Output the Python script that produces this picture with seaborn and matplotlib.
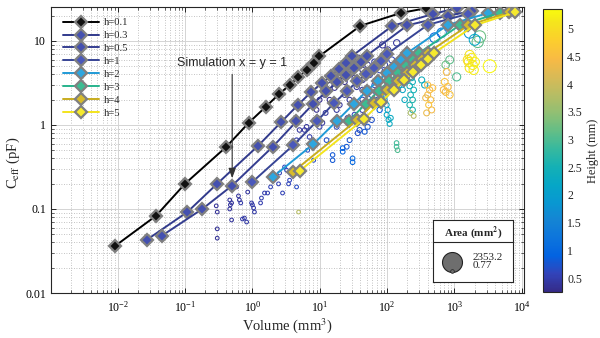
import numpy as np
import pandas as pd
import matplotlib
matplotlib.use("Agg")
import matplotlib.pyplot as plt
import seaborn as sns
from matplotlib.colors import LinearSegmentedColormap, Normalize
from matplotlib.ticker import FuncFormatter, LogLocator, FixedLocator
import matplotlib.cm as cm

# ---------------- simulated sweeps (x = y = s, one curve per height h) ----------------
sweep_labels = ["h=0.1", "h=0.3", "h=0.5", "h=1", "h=2", "h=3", "h=4", "h=5"]

vol_01 = [0.009, 0.037, 0.10, 0.41, 0.88, 1.57, 2.5, 3.6, 4.8, 6.4, 8.1, 9.9, 40, 160, 380]
cap_01 = [0.036, 0.083, 0.20, 0.55, 1.06, 1.64, 2.34, 3.0, 3.7, 4.5, 5.5, 6.6, 15.1, 21.5, 24.5]
vol_03 = [0.027, 0.108, 0.30, 1.2, 2.7, 4.8, 7.5, 10.8, 14.7, 19.2, 24.3, 30, 120, 480, 1080]
cap_03 = [0.043, 0.092, 0.20, 0.56, 1.09, 1.75, 2.47, 3.16, 3.83, 4.64, 5.47, 6.6, 15.1, 20.9, 24.5]
vol_05 = [0.045, 0.18, 0.5, 2.0, 4.5, 8, 12.5, 18, 24.5, 32, 40.5, 50, 200, 800, 1800]
cap_05 = [0.048, 0.10, 0.19, 0.55, 1.1, 1.78, 2.5, 3.2, 3.9, 4.7, 5.6, 6.7, 15.3, 20.0, 22.5]
vol_1 = [1, 4, 9, 16, 25, 36, 49, 64, 81, 100, 400, 1600]
cap_1 = [0.21, 0.57, 1.1, 1.8, 2.5, 3.3, 4.0, 4.8, 5.8, 7.0, 15.5, 21.0]
vol_2 = [2, 8, 18, 32, 50, 72, 98, 128, 162, 200, 800, 3200]
cap_2 = [0.24, 0.59, 1.12, 1.78, 2.55, 3.3, 4.1, 4.95, 5.9, 7.2, 15.5, 21.5]
vol_3 = [27, 48, 75, 108, 147, 192, 243, 300, 1200, 4800]
cap_3 = [1.12, 1.78, 2.55, 3.35, 4.15, 5.0, 6.0, 7.2, 15.4, 21.6]
vol_4 = [4, 36, 64, 100, 144, 196, 256, 324, 400, 1600, 6400]
cap_4 = [0.276, 1.15, 1.83, 2.6, 3.35, 4.2, 5.1, 6.1, 7.2, 15.3, 21.8]
vol_5 = [5, 45, 80, 125, 180, 245, 320, 405, 500, 2000, 8000]
cap_5 = [0.283, 1.17, 1.85, 2.62, 3.4, 4.25, 5.1, 6.1, 7.2, 15.3, 22.0]

sweep_vols = [vol_01, vol_03, vol_05, vol_1, vol_2, vol_3, vol_4, vol_5]
sweep_caps = [cap_01, cap_03, cap_05, cap_1, cap_2, cap_3, cap_4, cap_5]
line_colors = ["#000000", "#313a8c", "#343d90", "#374495", "#1f9ad6", "#27b38c", "#c8ac1e", "#f3e41c"]
face_colors = ["#111111", "#4450b0", "#4450b0", "#4a58bb", "#2ea6df", "#3cbc92", "#d7bb2c", "#f6ea2e"]

# ---------------- measured sensors: volume, C_eff, height, pad area ----------------
small_vol = [0.29, 0.30, 0.30, 0.30, 0.46, 0.47, 0.46, 0.49, 0.62, 0.64, 0.67, 0.71,
             0.82, 0.85, 1.00, 1.04, 1.07, 1.36, 1.32, 1.51, 1.86, 2.44, 3.44, 0.58,
             0.49, 0.76, 0.97, 1.68, 2.53, 3.21, 3.56, 4.52, 2.80, 3.0, 6.6, 8.1, 4.84]
small_cap = [0.109, 0.092, 0.058, 0.045, 0.128, 0.112, 0.100, 0.074, 0.143, 0.128, 0.118, 0.076,
             0.070, 0.159, 0.112, 0.103, 0.092, 0.135, 0.118, 0.155, 0.183, 0.199, 0.199, 0.183,
             0.118, 0.078, 0.118, 0.155, 0.268, 0.29, 0.22, 0.183, 0.155, 0.316, 0.50, 0.38, 0.092]
small_height = [0.35, 0.35, 0.35, 0.35, 0.4, 0.4, 0.4, 0.4, 0.4, 0.4, 0.45, 0.45,
                0.45, 0.4, 0.45, 0.45, 0.45, 0.5, 0.5, 0.5, 0.55, 0.55, 0.6, 0.4,
                0.4, 0.45, 0.45, 0.5, 0.55, 0.6, 0.6, 0.65, 0.55, 0.6, 0.65, 0.65, 3.8]
small_area = [1.0, 1.2, 0.9, 0.8, 1.5, 1.4, 1.3, 1.2, 2.0, 2.0, 1.8, 1.5,
              1.6, 2.5, 2.4, 2.2, 2.0, 2.8, 2.6, 3.0, 3.5, 4.0, 5.0, 2.2,
              1.6, 1.5, 2.3, 3.0, 4.5, 5.0, 4.5, 5.0, 4.0, 5.5, 8, 8, 1.5]

low_vol = [5.0, 5.95, 7.05, 8.37, 9.28, 9.93, 4.52, 6.37, 8.95, 10.9,
           12.6, 15.5, 15.5, 17.8, 17.8, 21.9, 21.9, 25.1, 27.7, 30.7,
           30.7, 36.6, 39.0, 43.1, 46.3, 51.3, 59.0, 43.1, 43.1, 43.1,
           43.1, 43.1, 43.1, 27.7, 32.9, 35.3, 23.4, 27.7, 19.7, 14.0,
           11.8, 16.6, 23.4, 55.0, 65.2, 59.0, 72.4, 77.4, 51.3, 65.2,
           77.4, 91.8, 85.6, 102, 117, 139, 91.8, 19.7, 25.1, 29.7,
           36.6, 14.0, 9.93, 7.55, 12.2, 32.9, 25.9]
low_cap = [0.87, 0.87, 0.72, 1.15, 1.21, 0.95, 0.66, 0.95, 1.51, 1.06,
           0.66, 0.44, 0.38, 1.51, 0.95, 0.53, 0.48, 0.55, 0.66, 0.40,
           0.36, 0.80, 0.87, 1.15, 0.83, 0.95, 1.15, 5.94, 4.52, 3.43,
           2.61, 1.99, 1.51, 4.52, 3.63, 2.83, 2.28, 1.99, 1.73, 1.99,
           2.28, 2.76, 3.25, 3.94, 2.99, 2.28, 1.99, 1.51, 5.18, 5.62,
           4.52, 3.63, 8.96, 7.81, 5.94, 9.47, 5.18, 3.94, 4.77, 5.62,
           6.28, 2.99, 1.99, 1.73, 1.39, 1.32, 1.21]
low_height = [0.4, 0.4, 0.5, 0.35, 0.35, 0.5, 0.5, 0.4, 0.3, 0.4,
              0.7, 0.8, 0.8, 0.4, 0.6, 0.9, 0.9, 0.8, 0.75, 1.0,
              1.0, 0.7, 0.7, 0.7, 0.8, 0.75, 0.7, 0.3, 0.35, 0.4,
              0.4, 0.5, 0.55, 0.3, 0.35, 0.4, 0.35, 0.4, 0.4, 0.3,
              0.3, 0.3, 0.3, 0.5, 0.6, 0.7, 0.7, 0.9, 0.4, 0.5,
              0.6, 0.7, 0.35, 0.4, 0.6, 0.4, 0.55, 0.3, 0.3, 0.3,
              0.3, 0.3, 0.3, 0.3, 0.4, 0.6, 0.6]
low_area = [40, 40, 45, 50, 50, 55, 35, 45, 55, 60,
            50, 40, 40, 70, 60, 50, 50, 55, 60, 50,
            50, 70, 75, 80, 70, 80, 90, 110, 100, 95,
            90, 85, 80, 90, 90, 85, 75, 75, 70, 65,
            60, 70, 80, 100, 95, 90, 95, 90, 110, 120,
            115, 110, 150, 150, 140, 170, 130, 80, 90, 100,
            110, 70, 60, 55, 60, 70, 65]

mid_vol = [91.8, 98.4, 102, 98.4, 105, 109, 95, 113, 231, 239,
           216, 248, 223, 239, 216, 239, 326, 361, 129, 143,
           153, 170, 182, 164, 138, 138, 143, 223, 248]
mid_cap = [1.99, 1.73, 1.51, 1.32, 1.15, 1.03, 2.28, 1.21, 3.63, 3.25,
           2.91, 2.61, 2.28, 1.99, 1.73, 1.51, 3.43, 2.99, 3.43, 3.94,
           2.99, 2.61, 1.99, 4.27, 0.61, 0.55, 0.50, 1.39, 1.28]
mid_height = [2.0, 2.1, 2.1, 2.2, 2.2, 2.3, 2.0, 2.3, 2.4, 2.4,
              2.5, 2.5, 2.5, 2.6, 2.6, 2.6, 2.4, 2.3, 2.0, 1.9,
              2.1, 2.2, 2.3, 1.9, 2.9, 2.9, 3.0, 3.7, 3.8]
mid_area = [70, 70, 75, 70, 75, 75, 75, 75, 110, 110,
            110, 115, 110, 110, 105, 105, 140, 150, 90, 95,
            95, 100, 100, 100, 45, 45, 45, 60, 60]

large_vol = [849, 1078, 2366, 2213, 740, 1683, 1997, 508, 645]
large_cap = [5.94, 3.73, 11.2, 9.73, 5.18, 12.5, 10.3, 10.9, 12.5]
large_height = [3.1, 3.0, 3.2, 3.1, 3.2, 1.8, 2.2, 1.0, 1.2]
large_area = [300, 320, 800, 700, 260, 650, 650, 500, 450]

tall_vol = [400, 428, 400, 443, 414, 458, 386, 474, 373, 715, 793, 740, 849, 692, 766]
tall_cap = [2.99, 2.61, 2.28, 1.99, 1.73, 1.51, 1.39, 2.76, 2.10, 3.25, 2.83, 2.47, 2.28, 2.61, 4.27]
tall_height = [4.4, 4.5, 4.4, 4.5, 4.6, 4.4, 4.3, 4.5, 4.3, 4.6, 4.5, 4.4, 4.6, 4.5, 4.4]
tall_area = [150, 150, 140, 150, 140, 140, 130, 160, 130, 200, 210, 200, 210, 200, 200]

top_vol = [1683, 1803, 1626, 1862, 1683, 1928, 1571, 1997, 3337]
top_cap = [6.81, 6.28, 5.62, 5.18, 4.77, 4.52, 5.94, 5.62, 5.0]
top_height = [5.1, 5.2, 5.1, 5.2, 5.1, 5.2, 5.0, 5.2, 5.3]
top_area = [420, 430, 420, 440, 420, 440, 400, 450, 940]

area_range = (0.77, 2353.2)
height_range = (0.25, 5.35)
cbar_ticks = [0.5, 1, 1.5, 2, 2.5, 3, 3.5, 4, 4.5, 5]

# ---------------- colour map (parula) ----------------
parula_pts = [
    (0.2081, 0.1663, 0.5292), (0.1959, 0.2645, 0.7279), (0.0117, 0.3875, 0.8820),
    (0.0498, 0.4586, 0.8641), (0.0793, 0.5200, 0.8312), (0.0343, 0.5966, 0.8199),
    (0.0228, 0.6535, 0.7768), (0.0843, 0.6928, 0.7062), (0.2178, 0.7250, 0.6193),
    (0.3953, 0.7459, 0.5244), (0.5709, 0.7485, 0.4494), (0.7184, 0.7411, 0.3905),
    (0.8507, 0.7299, 0.3360), (0.9739, 0.7314, 0.2666), (0.9880, 0.8066, 0.1794),
    (0.9589, 0.8949, 0.1132), (0.9763, 0.9831, 0.0538)]
parula_pos = [0, 4, 8, 12, 16, 20, 24, 28, 32, 36, 40, 44, 48, 52, 56, 60, 63]
parula = LinearSegmentedColormap.from_list(
    "parula", [(p / 63.0, c) for p, c in zip(parula_pos, parula_pts)])

# ---------------- styling ----------------
sns.set_style("ticks")
plt.rcParams["font.family"] = ["Liberation Serif", "DejaVu Serif"]
plt.rcParams["mathtext.fontset"] = "stix"

fig = plt.figure(figsize=(6.0, 3.38), dpi=100)
ax = fig.add_axes([0.085, 0.133, 0.788, 0.845])
ax.set_xscale("log")
ax.set_yscale("log")

norm = Normalize(*height_range)

frames = []
for v, c, h, a in [(small_vol, small_cap, small_height, small_area),
                   (low_vol, low_cap, low_height, low_area),
                   (mid_vol, mid_cap, mid_height, mid_area),
                   (large_vol, large_cap, large_height, large_area),
                   (tall_vol, tall_cap, tall_height, tall_area),
                   (top_vol, top_cap, top_height, top_area)]:
    frames.append(pd.DataFrame({"volume": v, "ceff": c, "height": h, "area": a}))
sensors = pd.concat(frames, ignore_index=True)

sns.scatterplot(data=sensors, x="volume", y="ceff", hue="height", size="area",
                palette=parula, hue_norm=norm, sizes=(7, 207), size_norm=area_range,
                legend=False, ax=ax, linewidth=0.75, zorder=2)
pts = ax.collections[-1]
pts.set_edgecolors(pts.get_facecolors())
pts.set_facecolors("none")

handles = []
for v, c, lc, fc, lab in zip(sweep_vols, sweep_caps, line_colors, face_colors, sweep_labels):
    sns.lineplot(x=v, y=c, ax=ax, sort=False, estimator=None, color=lc, linewidth=1.4,
                 marker="D", markersize=5.8, markerfacecolor=fc, markeredgecolor="#808080",
                 markeredgewidth=1.6, zorder=3)
    handles.append(ax.lines[-1])

ax.set_xlim(1.02e-3, 1.07e4)
ax.set_ylim(0.01, 25)

ax.xaxis.set_major_locator(FixedLocator([1e-2, 1e-1, 1, 10, 100, 1e3, 1e4]))
ax.xaxis.set_minor_locator(LogLocator(base=10, subs=np.arange(2, 10), numticks=100))
ax.yaxis.set_major_locator(FixedLocator([0.01, 0.1, 1, 10]))
ax.yaxis.set_minor_locator(LogLocator(base=10, subs=np.arange(2, 10), numticks=100))
ax.yaxis.set_major_formatter(FuncFormatter(lambda v, p: "%g" % v))

ax.set_axisbelow(True)
ax.grid(True, which="major", color="#d4d4d4", linestyle="-", linewidth=0.7)
ax.grid(True, which="minor", color="#b0b0b0", linestyle=(0, (1, 2)), linewidth=0.6)
ax.tick_params(which="both", direction="in", top=True, right=True, colors="#262626",
               labelsize=8.5, labelcolor="black")
ax.tick_params(axis="x", which="major", pad=5)
ax.tick_params(which="major", length=3.5, width=0.7)
ax.tick_params(which="minor", length=2, width=0.5)
for s in ax.spines.values():
    s.set_color("#262626")
    s.set_linewidth(0.8)

ax.set_xlabel("Volume (mm$^3$)", fontsize=10.5, labelpad=1)
ax.set_ylabel(r"C$_{\rm eff}$ (pF)", fontsize=10.5)
ax.yaxis.set_label_coords(-0.062, 0.455)

ax.legend(handles, sweep_labels, loc="upper left", bbox_to_anchor=(0.012, 0.985),
          frameon=False, fontsize=7.6, handlelength=3.4, handletextpad=0.45,
          labelspacing=0.33, borderaxespad=0.2)

# annotated simulation point (h = 0.5, x = y = 1)
ax.annotate("", xy=(0.5, 0.215), xytext=(0.5, 4.3),
            arrowprops=dict(arrowstyle="-|>,head_length=0.6,head_width=0.22",
                            color="#333333", lw=0.8))
ax.text(0.077, 5.47, "Simulation x = y = 1", fontsize=9, family=["Liberation Sans"],
        va="center", ha="left")

# colour bar for height
cax = fig.add_axes([0.905, 0.136, 0.032, 0.837])
sm = cm.ScalarMappable(norm=norm, cmap=parula)
cb = fig.colorbar(sm, cax=cax)
cb.set_ticks(cbar_ticks)
cb.set_ticklabels(["%g" % t for t in cbar_ticks])
cb.ax.tick_params(direction="in", length=3, width=0.6, labelsize=8.5)
cb.outline.set_linewidth(0.8)
cb.set_label("Height (mm)", fontsize=9)

# bubble-size key for pad area
kax = fig.add_axes([0.7217, 0.1657, 0.1333, 0.1834])
kax.set_xlim(0, 1)
kax.set_ylim(0, 1)
kax.set_xticks([])
kax.set_yticks([])
kax.set_facecolor("white")
for s in kax.spines.values():
    s.set_color("#262626")
    s.set_linewidth(0.8)
kax.axhline(0.645, color="#262626", lw=0.8)
kax.text(0.5, 0.80, r"Area (mm$^{\mathbf{2}}$)", ha="center", va="center",
         fontsize=8, fontweight="bold")
kax.scatter([0.2375], [0.32], s=207, color="#6e6e6e", edgecolors="#222222", linewidths=0.8)
kax.scatter([0.2375], [0.17], s=7, color="#6e6e6e", edgecolors="#222222", linewidths=0.5)
kax.text(0.49, 0.40, "%.1f" % area_range[1], ha="left", va="center", fontsize=8)
kax.text(0.49, 0.27, "%.2f" % area_range[0], ha="left", va="center", fontsize=8)

fig.savefig("out.png", dpi=100)
